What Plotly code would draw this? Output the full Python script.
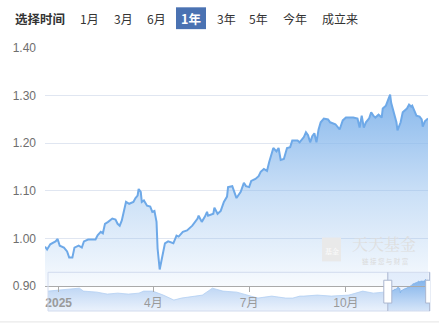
import plotly.graph_objects as go

# ---------------- data ----------------
dates = ["2024-12-19","2024-12-21","2024-12-24","2024-12-29","2024-12-31","2025-01-02","2025-01-06",
         "2025-01-09","2025-01-11","2025-01-14","2025-01-16","2025-01-20","2025-01-23","2025-01-25",
         "2025-01-29","2025-02-05","2025-02-07","2025-02-10","2025-02-12","2025-02-14","2025-02-17",
         "2025-02-21","2025-02-24","2025-02-26","2025-02-28","2025-03-02","2025-03-03","2025-03-06",
         "2025-03-09","2025-03-13","2025-03-15","2025-03-17","2025-03-18","2025-03-20","2025-03-21",
         "2025-03-23","2025-03-26","2025-03-29","2025-03-31","2025-04-02","2025-04-04","2025-04-05",
         "2025-04-07","2025-04-10","2025-04-12","2025-04-15","2025-04-20","2025-04-23","2025-04-25",
         "2025-04-29","2025-05-03","2025-05-08","2025-05-13","2025-05-14","2025-05-17","2025-05-20",
         "2025-05-22","2025-05-23","2025-05-28","2025-05-29","2025-06-01","2025-06-04","2025-06-07",
         "2025-06-10","2025-06-11","2025-06-15","2025-06-16","2025-06-19","2025-06-23","2025-06-26",
         "2025-06-28","2025-07-01","2025-07-03","2025-07-07","2025-07-10","2025-07-12","2025-07-15",
         "2025-07-18","2025-07-20","2025-07-24","2025-07-27","2025-07-29","2025-07-31","2025-08-03",
         "2025-08-06","2025-08-09","2025-08-11","2025-08-16","2025-08-18","2025-08-22","2025-08-24",
         "2025-08-26","2025-08-28","2025-08-30","2025-09-01","2025-09-03","2025-09-05","2025-09-07",
         "2025-09-10","2025-09-14","2025-09-16","2025-09-21","2025-09-25","2025-09-28","2025-10-01",
         "2025-10-08","2025-10-12","2025-10-14","2025-10-16","2025-10-18","2025-10-20","2025-10-23",
         "2025-10-25","2025-10-27","2025-10-29","2025-11-01","2025-11-04","2025-11-05","2025-11-08",
         "2025-11-10","2025-11-12","2025-11-13","2025-11-14","2025-11-16","2025-11-18","2025-11-19",
         "2025-11-22","2025-11-24","2025-11-28","2025-11-30","2025-12-02","2025-12-03","2025-12-07",
         "2025-12-10","2025-12-12","2025-12-13","2025-12-15","2025-12-18"]
nav = [0.983,0.977,0.988,0.994,0.999,0.985,0.981,
       0.973,0.960,0.960,0.981,0.985,0.981,0.994,
       0.998,0.998,1.007,1.014,1.011,1.031,1.035,
       1.042,1.040,1.031,1.027,1.038,1.048,1.077,
       1.073,1.077,1.085,1.090,1.104,1.098,1.077,
       1.080,1.069,1.067,1.056,1.058,1.035,0.979,
       0.935,0.965,0.990,0.994,0.990,1.006,1.004,
       1.014,1.017,1.027,1.042,1.048,1.035,1.046,
       1.056,1.048,1.052,1.065,1.052,1.058,1.077,
       1.088,1.108,1.110,1.104,1.085,1.098,1.117,
       1.110,1.108,1.121,1.125,1.131,1.140,1.146,
       1.142,1.160,1.190,1.183,1.190,1.165,1.167,
       1.190,1.192,1.206,1.206,1.202,1.213,1.223,
       1.217,1.202,1.215,1.221,1.202,1.229,1.244,
       1.252,1.250,1.244,1.240,1.229,1.248,1.254,
       1.254,1.252,1.233,1.258,1.233,1.244,1.252,
       1.265,1.258,1.254,1.260,1.254,1.273,1.279,
       1.290,1.302,1.285,1.277,1.265,1.244,1.227,
       1.244,1.265,1.273,1.281,1.277,1.279,1.258,
       1.256,1.250,1.235,1.246,1.252]

# full-history series shown in the zoom slider
hist_dates = ["2016-11-15","2017-02-15","2017-05-15","2017-08-15","2017-09-20","2018-01-15","2018-04-15",
              "2018-07-15","2018-10-15","2019-01-15","2019-02-25","2019-05-15","2019-08-15","2019-11-15",
              "2020-01-20","2020-05-15","2020-07-20","2020-10-15","2021-01-15","2021-05-15","2021-08-15",
              "2021-11-15","2022-03-15","2022-07-15","2022-09-15","2022-11-15","2022-12-20","2023-04-15",
              "2023-08-15","2024-01-15","2024-05-15","2024-08-15","2024-11-15","2024-12-19"]
hist_nav = [0.984,1.010,1.037,1.064,0.984,0.957,0.904,
            0.930,0.904,0.930,0.984,0.984,0.877,0.744,
            0.797,0.850,0.877,1.064,0.984,0.957,0.877,
            0.797,0.850,0.797,0.797,0.850,0.850,0.877,
            0.850,0.877,0.984,0.930,0.957,0.983]

y_ticks = [0.90, 1.00, 1.10, 1.20, 1.30, 1.40]
x_tickvals = ["2025-01-01", "2025-04-01", "2025-07-01", "2025-10-01"]
x_ticktext = ["<b>2025</b>", "4月", "7月", "10月"]
buttons = ["1月", "3月", "6月", "1年", "3年", "5年", "今年", "成立来"]
active_button = "1年"

# ---------------- layout helpers ----------------
W, H = 439, 326
ML, MR, MT, MB = 45, 8, 48, 13
PW, PH = W - ML - MR, H - MT - MB


def px(x):
    return (x - ML) / PW


def py(y):
    return (H - MB - y) / PH


FONT = "Liberation Sans, Arial, Noto Sans CJK SC, sans-serif"
LINE_C = "#6ea9e8"

fig = go.Figure()

# slider mini chart (history, unselected) -> first subplot (drawn underneath)
fig.add_trace(go.Scatter(
    x=hist_dates, y=hist_nav, mode="lines",
    line=dict(color="#b3cff2", width=0.8), fill="tozeroy",
    fillgradient=dict(type="vertical", start=0.45, stop=1.1,
                      colorscale=[[0, "rgba(235,242,252,1)"], [1, "rgba(190,214,244,1)"]]),
    hoverinfo="skip", showlegend=False))
# slider mini chart (selected window)
fig.add_trace(go.Scatter(
    x=dates, y=nav, mode="lines",
    line=dict(color="#7fb1ea", width=0.8), fill="tozeroy",
    fillgradient=dict(type="vertical", start=0.45, stop=1.3,
                      colorscale=[[0, "rgba(215,230,249,1)"], [1, "rgba(128,178,235,1)"]]),
    hoverinfo="skip", showlegend=False))

# main series -> second subplot (drawn on top, with its tick labels)
fig.add_trace(go.Scatter(
    x=dates, y=nav, xaxis="x2", yaxis="y2", mode="lines",
    line=dict(color=LINE_C, width=2), fill="tozeroy",
    fillgradient=dict(type="vertical", start=y_ticks[0], stop=max(nav),
                      colorscale=[[0, "rgba(136,184,236,0.06)"], [0.5, "rgba(136,184,236,0.45)"],
                                  [1, "rgba(136,184,236,1)"]]),
    showlegend=False))

fig.update_layout(
    width=W, height=H, margin=dict(l=ML, r=MR, t=MT, b=MB),
    paper_bgcolor="white", plot_bgcolor="rgba(0,0,0,0)",
    font=dict(family=FONT, size=12, color="#666"),
    xaxis2=dict(domain=[0, px(428)], range=[dates[0], dates[-1]], type="date", anchor="y2",
                tickvals=x_tickvals, ticktext=x_ticktext, ticks="outside", ticklen=5,
                tickcolor="#aaaaaa", showline=True, linecolor="#aaaaaa", linewidth=1,
                showgrid=False, zeroline=False, tickfont=dict(size=12, color="#9a9a9a")),
    yaxis2=dict(domain=[py(288), 1], range=[y_ticks[0], y_ticks[-1]], tickvals=y_ticks,
                anchor="x2", tickformat=".2f", showgrid=True, gridcolor="#e0e6f1", zeroline=False,
                showline=False, ticks="", ticklabelstandoff=8,
                tickfont=dict(size=12, color="#6e6e6e")),
    xaxis=dict(domain=[px(48), px(430)], range=["2016-11-15", "2025-12-21"], type="date",
               anchor="y", visible=False),
    yaxis=dict(domain=[0, py(274)], range=[0.45, 1.49], anchor="x", visible=False),
)

shapes = []
# slider frame
shapes.append(dict(type="rect", xref="paper", yref="paper", x0=px(48), x1=px(430),
                   y0=py(313), y1=py(274), line=dict(color="#d2dbee", width=1),
                   fillcolor="rgba(0,0,0,0)", layer="above"))
# selected window
shapes.append(dict(type="rect", xref="x", yref="paper", x0=dates[0], x1=dates[-1],
                   y0=py(313), y1=py(274), line=dict(width=0),
                   fillcolor="rgba(135,175,240,0.15)", layer="below"))
for d in (dates[0], dates[-1]):
    shapes.append(dict(type="line", xref="x", yref="paper", x0=d, x1=d,
                       y0=py(313), y1=py(274), line=dict(color="#aab6cf", width=1), layer="above"))
    shapes.append(dict(type="rect", xref="x", yref="paper", xsizemode="pixel", xanchor=d,
                       x0=-4, x1=4, y0=py(305), y1=py(282), fillcolor="white",
                       line=dict(color="#aab6cf", width=1), layer="above"))
# bottom border line
shapes.append(dict(type="line", xref="paper", yref="paper", x0=px(0), x1=px(W),
                   y0=py(324), y1=py(324), line=dict(color="#e4e4e4", width=1)))
# active button box
bx = {"1月": 89, "3月": 123, "6月": 156, "1年": 191, "3年": 226, "5年": 258, "今年": 294.5, "成立来": 339.5}
shapes.append(dict(type="rect", xref="paper", yref="paper", x0=px(176), x1=px(206),
                   y0=py(29), y1=py(7), fillcolor="#4a72b2", line=dict(width=0)))
# watermark icon
shapes.append(dict(type="rect", xref="paper", yref="paper", x0=px(322), x1=px(341),
                   y0=py(263), y1=py(239), fillcolor="#e9e9e9", line=dict(width=0), layer="above"))
fig.update_layout(shapes=shapes)

CJK = "Noto Sans CJK SC, sans-serif"
ann = [dict(text="<b>选择时间</b>", x=px(13), y=py(18.5), xanchor="left", yanchor="middle",
            font=dict(family=CJK, size=12.5, color="#333"))]
for b in buttons:
    if b == active_button:
        ann.append(dict(text="<b>" + b + "</b>", x=px(bx[b]), y=py(18.5), xanchor="center",
                        yanchor="middle", font=dict(family=CJK, size=12.5, color="white")))
    else:
        ann.append(dict(text=b, x=px(bx[b]), y=py(18.5), xanchor="center", yanchor="middle",
                        font=dict(family=CJK, size=12, color="#333")))
# watermark
ann.append(dict(text="基金", x=px(331.5), y=py(253), xanchor="center", yanchor="middle",
                font=dict(family="Noto Serif CJK SC, " + CJK, size=7, color="white")))
ann.append(dict(text="天天基金", x=px(384), y=py(245), xanchor="center", yanchor="middle",
                font=dict(family="Noto Serif CJK SC, " + CJK, size=16, color="#dedede"), borderpad=0))
ann.append(dict(text="链 接 您 与 财 富", x=px(385), y=py(263), xanchor="center", yanchor="middle",
                font=dict(family=CJK, size=6.5, color="#dadada"), borderpad=0))
for a in ann:
    a.update(xref="paper", yref="paper", showarrow=False)
fig.update_layout(annotations=ann)

fig.write_html("out.html")
